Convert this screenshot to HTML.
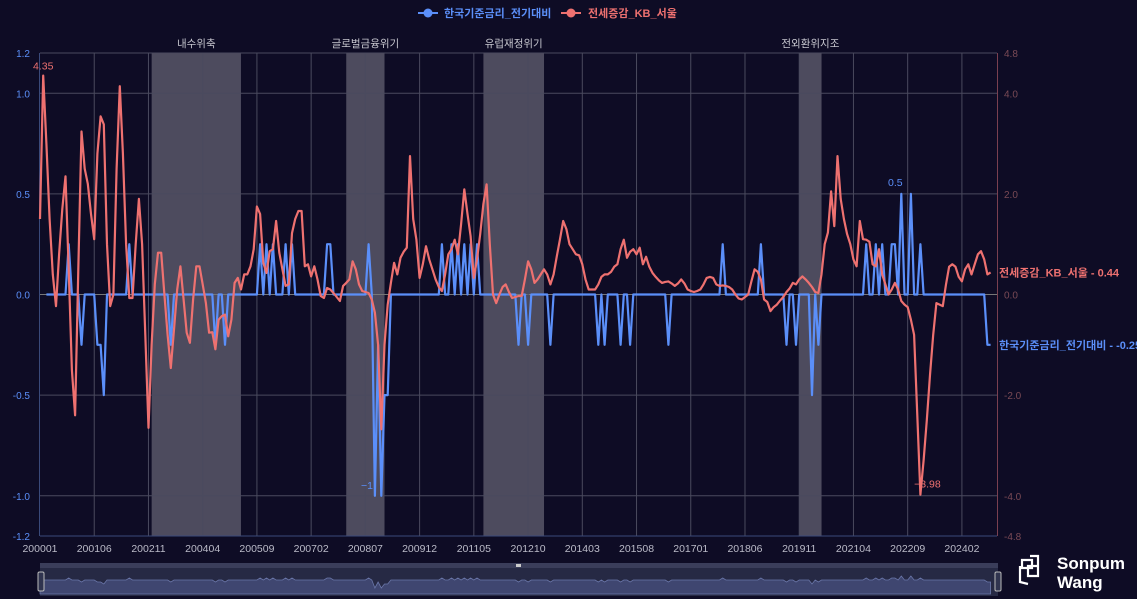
<!DOCTYPE html>
<html><head><meta charset="utf-8">
<style>
body{margin:0;background:#0e0c25;width:1137px;height:599px;overflow:hidden;font-family:"Liberation Sans","Noto Sans CJK KR",sans-serif;}
svg{display:block}
</style></head>
<body>
<svg id="chart" width="1137" height="599" xmlns="http://www.w3.org/2000/svg">
<rect width="1137" height="599" fill="#0e0c25"/>
<g id="bands"></g><g id="grid"></g><g id="axes"></g><g id="series"></g><g id="labels"></g>
<g id="legend">
  <g>
    <line x1="418" y1="13" x2="438" y2="13" stroke="#5b8ff9" stroke-width="2"/><circle cx="428" cy="13" r="4.5" fill="#5b8ff9"/>
    <text x="444" y="17" fill="#5b8ff9" font-size="11" font-weight="bold">한국기준금리_전기대비</text></g>
  <g>
    <line x1="561" y1="13" x2="581" y2="13" stroke="#ee7170" stroke-width="2"/><circle cx="571" cy="13" r="4.5" fill="#ee7170"/>
    <text x="588" y="17" fill="#ee7170" font-size="11" font-weight="bold">전세증감_KB_서울</text></g>
</g>
<g id="zoom">
  <rect x="40" y="563" width="958" height="33" fill="#262944"/>
  <rect x="40" y="563" width="958" height="5" fill="#3a3d5a"/>
  <rect x="516" y="564" width="5" height="3" fill="#ccc"/>
  <path id="zoomarea" fill="#3f4670" stroke="#6a76a8" stroke-width="0.8"/>
  <rect x="38" y="572" width="6" height="19" rx="1.5" fill="#30344f" stroke="#bbb"/>
  <rect x="995" y="572" width="6" height="19" rx="1.5" fill="#30344f" stroke="#bbb"/>
</g>
<g>
  <path d="M1022 560 h10 v8 h-10 z M1028 566 h10 v10 h-10z M1020 566 v16 l8 2 M1030 556 h8 v10" fill="none" stroke="#fff" stroke-width="2.2"/>
  <text x="1057" y="569" fill="#fff" font-size="17" font-weight="bold">Sonpum</text>
  <text x="1057" y="588" fill="#fff" font-size="17" font-weight="bold">Wang</text>
</g>
</svg>
<script>
const categories=[];for(let y=2000;y<=2024;y++)for(let m=1;m<=12;m++)categories.push(String(y)+(m<10?'0':'')+m);
const rateValues=[null,null,0,0,0,0,0,0,0,.25,0,0,
0,-.25,0,0,0,0,-.25,-.25,-.5,0,0,0,
0,0,0,0,.25,0,0,0,0,0,0,0,
0,0,0,0,0,-.25,0,0,0,0,0,0,
0,0,0,0,0,0,0,-.25,0,0,-.25,0,
0,0,0,0,0,0,0,0,0,.25,0,.25,
0,.25,0,0,0,.25,0,.25,0,0,0,0,
0,0,0,0,0,0,.25,.25,0,0,0,0,
0,0,0,0,0,0,0,.25,0,-1,-.25,-1,
-.5,-.5,0,0,0,0,0,0,0,0,0,0,
0,0,0,0,0,0,.25,0,0,.25,0,.25,
0,.25,0,.25,0,.25,0,0,0,0,0,0,
0,0,0,0,0,0,-.25,0,0,-.25,0,0,
0,0,0,0,-.25,0,0,0,0,0,0,0,
0,0,0,0,0,0,0,-.25,0,-.25,0,0,
0,0,-.25,0,0,-.25,0,0,0,0,0,0,
0,0,0,0,0,-.25,0,0,0,0,0,0,
0,0,0,0,0,0,0,0,0,0,.25,0,
0,0,0,0,0,0,0,0,0,0,.25,0,
0,0,0,0,0,0,-.25,0,0,-.25,0,0,
0,0,-.5,0,-.25,0,0,0,0,0,0,0,
0,0,0,0,0,0,0,.25,0,0,.25,0,
.25,0,0,.25,.25,0,.5,0,0,.5,0,0,
.25,0,0,0,0,0,0,0,0,0,0,0,
0,0,0,0,0,0,0,0,0,-.25,-.25];
const jeonseValues=[1.5,4.35,3.0,1.5,0.4,-0.23,0.8,1.7,2.35,0.5,-1.5,-2.4,
0.5,3.24,2.5,2.2,1.6,1.1,2.8,3.54,3.38,1.0,-0.23,0.0,
2.5,4.14,2.8,1.0,-0.07,-0.07,1.0,1.9,1.0,-0.8,-2.65,-1.0,
0.2,0.83,0.83,0.0,-0.8,-1.46,-0.7,0.1,0.56,-0.1,-0.76,-0.96,
-0.1,0.56,0.56,0.2,-0.17,-0.76,-0.75,-1.09,-0.5,-0.43,-0.4,-0.83,
-0.5,0.23,0.33,0.1,0.4,0.4,0.56,0.9,1.75,1.6,0.63,0.43,
0.86,0.9,1.46,0.83,0.5,0.17,0.2,1.22,1.5,1.66,1.66,0.56,
0.6,0.36,0.56,0.3,-0.03,-0.07,0.13,0.1,0.03,-0.05,-0.13,0.17,
0.23,0.3,0.66,0.5,0.2,0.07,0.05,0.03,-0.1,-0.36,-1.0,-2.68,
-1.0,-0.2,0.23,0.63,0.4,0.73,0.85,0.93,2.75,1.5,1.09,0.33,
0.6,0.96,0.7,0.5,0.3,0.15,0.07,0.4,0.8,0.9,1.09,0.8,
1.4,2.09,1.6,1.16,0.33,0.7,1.2,1.8,2.19,1.0,0.0,-0.17,
0.0,0.15,0.2,0.05,-0.07,-0.05,-0.03,-0.03,0.3,0.66,0.5,0.23,
0.3,0.4,0.5,0.4,0.2,0.4,0.76,1.1,1.46,1.3,1.0,0.9,
0.8,0.78,0.6,0.3,0.1,0.1,0.1,0.2,0.35,0.4,0.4,0.45,
0.55,0.6,0.9,1.09,0.73,0.85,0.9,0.8,0.93,0.6,0.75,0.55,
0.43,0.35,0.28,0.23,0.25,0.26,0.22,0.17,0.22,0.3,0.22,0.1,
0.07,0.05,0.07,0.1,0.2,0.33,0.35,0.33,0.2,0.17,0.18,0.17,
0.15,0.1,0.0,-0.08,-0.1,-0.05,0.0,0.26,0.5,0.45,0.3,-0.1,
-0.15,-0.33,-0.25,-0.2,-0.12,-0.05,0.05,0.12,0.23,0.2,0.3,0.36,
0.3,0.23,0.15,0.05,0.03,0.4,1.0,1.23,2.05,1.36,2.75,1.9,
1.5,1.2,1.0,0.7,0.56,1.46,1.1,1.09,1.05,0.6,0.56,0.9,
0.4,0.2,0.0,0.1,0.23,0.1,-0.13,-0.2,-0.25,-0.5,-0.8,-2.4,
-3.98,-3.3,-2.5,-1.6,-0.8,-0.17,-0.2,-0.23,0.2,0.55,0.6,0.55,
0.35,0.26,0.5,0.6,0.4,0.6,0.8,0.86,0.7,0.4,0.44];
const leftTicks=[1.2,1.0,0.5,0.0,-0.5,-1.0,-1.2];
const rightTicks=[4.8,4.0,2.0,0.0,-2.0,-4.0,-4.8];
const xTickLabels=['200001','200106','200211','200404','200509','200702','200807','200912','201105','201210','201403','201508','201701','201806','201911','202104','202209','202402'];
const bandStarts=['200212','200801','201108','201911'];
const bandEnds=['200504','200901','201303','202006'];
const bandNames=['내수위축','글로벌금융위기','유럽재정위기','전외환위지조'];

const X0=40,STEP=3.19,Y0=53,Y1=536;
const xs=i=>X0+i*STEP;
const yL=v=>Y0+(1.2-v)/2.4*(Y1-Y0);
const yR=v=>Y0+(4.8-v)/9.6*(Y1-Y0);
const NS='http://www.w3.org/2000/svg';
function mk(tag,attrs,parent){const e=document.createElementNS(NS,tag);for(const k in attrs)e.setAttribute(k,attrs[k]);parent.appendChild(e);return e;}
const gB=document.getElementById('bands'),gG=document.getElementById('grid'),gA=document.getElementById('axes'),gS=document.getElementById('series'),gL=document.getElementById('labels');
bandStarts.forEach((s,k)=>{
  const a=xs(categories.indexOf(s)),b=xs(categories.indexOf(bandEnds[k]));
  const r=mk('rect',{x:a,y:Y0,width:b-a,height:Y1-Y0,fill:'#4d4b5e'},gB);
  
  
  const t=mk('text',{x:(a+b)/2,y:47,'text-anchor':'middle',fill:'#c8c8d0','font-size':'10.5'},gB);
  t.textContent=bandNames[k];
  
  
});
leftTicks.forEach((v,k)=>{
  const y=yL(v);
  if(v!==1.2&&v!==-1.2){const l=mk('line',{x1:X0,x2:997,y1:y,y2:y,stroke:v===0?'#777':'#4a4a5e','stroke-width':1},gG);
  
  }
  const t=mk('text',{x:30,y:y+4,'text-anchor':'end',fill:'#5b8ff9','font-size':'10'},gA);
  t.textContent=v.toFixed(1);
  
  
  const t2=mk('text',{x:1004,y:y+4,fill:'#7a4a55','font-size':'10'},gA);
  t2.textContent=rightTicks[k].toFixed(1);
  
  
});
mk('line',{x1:X0,x2:997,y1:Y0,y2:Y0,stroke:'#4a4a5e'},gG);
xTickLabels.forEach(s=>{
  const x=xs(categories.indexOf(s));
  if(s!=='200001'){const l=mk('line',{x1:x,x2:x,y1:Y0,y2:Y1,stroke:'#4a4a5e'},gG);
  
  }
  const t=mk('text',{x:x,y:552,'text-anchor':'middle',fill:'#bbbbc8','font-size':'10.5'},gA);
  t.textContent=s;
  
  
});
mk('line',{x1:X0,x2:997,y1:Y1,y2:Y1,stroke:'#3a4a7a'},gA);
mk('line',{x1:39.5,x2:39.5,y1:Y0,y2:Y1,stroke:'#3a4a7a'},gA);
mk('line',{x1:997.5,x2:997.5,y1:Y0,y2:Y1,stroke:'#7a4050'},gA);
function pathOf(vals,fy){let d='',pen=false;vals.forEach((v,i)=>{if(v===null){pen=false;return;}d+=(pen?'L':'M')+xs(i).toFixed(1)+' '+fy(v).toFixed(1);pen=true;});return d;}
const pb=mk('path',{d:pathOf(rateValues,yL),fill:'none',stroke:'#5b8ff9','stroke-width':2.2,'stroke-linejoin':'round'},gS);


const pr=mk('path',{d:pathOf(jeonseValues,yR),fill:'none',stroke:'#ee7170','stroke-width':2.2,'stroke-linejoin':'round'},gS);


function lab(txt,x,y,col,anchor,name){const t=mk('text',{x:x,y:y,fill:col,'font-size':'10.5','text-anchor':anchor||'middle'},gL);t.textContent=txt;}
const jmax=Math.max(...jeonseValues),jmin=Math.min(...jeonseValues);
const rnum=rateValues.filter(v=>v!==null),rmax=Math.max(...rnum),rmin=Math.min(...rnum);
lab(String(jmax),xs(jeonseValues.indexOf(jmax)),yR(jmax)-6,'#ee7170','middle','jeonse-max-label');
lab(String(jmin).replace('-','−'),xs(jeonseValues.indexOf(jmin))+7,yR(jmin)-7,'#ee7170','middle','jeonse-min-label');
lab(String(rmax),xs(rateValues.indexOf(rmax))-6,yL(rmax)-8,'#5b8ff9','middle','rate-max-label');
lab('−'+String(Math.abs(rmin)),xs(rateValues.indexOf(rmin))-8,yL(rmin)-7,'#5b8ff9','middle','rate-min-label');
const lj=jeonseValues[jeonseValues.length-1],lr=rateValues[rateValues.length-1];
const e1=mk('text',{x:999,y:yR(lj)+4,fill:'#ee7170','font-size':'11','font-weight':'bold'},gL);e1.textContent='전세증감_KB_서울 - '+lj;


const e2=mk('text',{x:999,y:yL(lr)+4,fill:'#5b8ff9','font-size':'11','font-weight':'bold'},gL);e2.textContent='한국기준금리_전기대비 - '+lr;


let zd='M'+xs(0)+' 594';rateValues.forEach((v,i)=>{zd+='L'+xs(i).toFixed(1)+' '+(580-(v||0)*8).toFixed(1);});zd+='L'+xs(rateValues.length-1)+' 594Z';
document.getElementById('zoomarea').setAttribute('d',zd);
</script>
</body></html>
